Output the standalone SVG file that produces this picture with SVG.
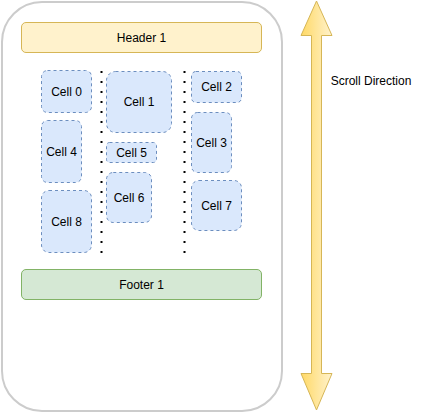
<svg xmlns="http://www.w3.org/2000/svg" width="422" height="414" viewBox="0 0 422 414">
<style>
text{font-family:"Liberation Sans",Arial,sans-serif;font-size:12px;fill:#000;text-anchor:middle;dominant-baseline:central}
.cell{fill:#dae8fc;stroke:#6c8ebf;stroke-dasharray:3 3;stroke-width:1}
.dots{stroke:#000;stroke-width:2;stroke-dasharray:2 8;fill:none}
</style>
<defs>
<linearGradient id="g" x1="0" y1="0" x2="1" y2="0">
<stop offset="0" stop-color="#ffd966"/>
<stop offset="1" stop-color="#fff2cc"/>
</linearGradient>
</defs>
<g id="phone"><rect x="2" y="2" width="280" height="409" rx="40" ry="40" fill="#fff" stroke="#cccccc" stroke-width="2"/></g>
<g id="header"><rect x="21.5" y="22.5" width="240" height="30" rx="4.5" fill="#fff2cc" stroke="#d6b656"/><text x="141.5" y="37.5">Header 1</text></g>
<g id="footer"><rect x="21.5" y="269.5" width="240" height="30" rx="4.5" fill="#d5e8d4" stroke="#82b366"/><text x="141.5" y="284.5">Footer 1</text></g>
<g id="cell0"><rect class="cell" x="41.5" y="70.5" width="50" height="42" rx="6"/><text x="66.5" y="91.5">Cell 0</text></g>
<g id="cell1"><rect class="cell" x="106.5" y="71.5" width="65" height="61" rx="9"/><text x="139" y="102">Cell 1</text></g>
<g id="cell2"><rect class="cell" x="191.5" y="71.5" width="50" height="31" rx="4.5"/><text x="216.5" y="87">Cell 2</text></g>
<g id="cell3"><rect class="cell" x="191.5" y="112.5" width="40" height="60" rx="6"/><text x="211.5" y="142.5">Cell 3</text></g>
<g id="cell4"><rect class="cell" x="41.5" y="120.5" width="40" height="62" rx="6"/><text x="61.5" y="151.5">Cell 4</text></g>
<g id="cell5"><rect class="cell" x="106.5" y="142.5" width="50" height="20" rx="3"/><text x="131.5" y="152.5">Cell 5</text></g>
<g id="cell6"><rect class="cell" x="106.5" y="172.5" width="45" height="50" rx="6.75"/><text x="129" y="197.5">Cell 6</text></g>
<g id="cell7"><rect class="cell" x="191.5" y="180.5" width="50" height="50" rx="7.5"/><text x="216.5" y="205.5">Cell 7</text></g>
<g id="cell8"><rect class="cell" x="41.5" y="190.5" width="50" height="62" rx="7.5"/><text x="66.5" y="221.5">Cell 8</text></g>
<g id="connectors">
<line class="dots" x1="101.5" y1="71" x2="101.5" y2="253"/>
<line class="dots" x1="184.5" y1="71" x2="184.5" y2="253"/>
</g>
<g id="scroll-arrow">
<path d="M316.5 1 L332 35.5 L321.5 35.5 L321.5 373.5 L332 373.5 L316.5 410 L301 373.5 L311.5 373.5 L311.5 35.5 L301 35.5 Z" fill="url(#g)" stroke="#d6b656" stroke-linejoin="miter"/>
<text x="371" y="81">Scroll Direction</text>
</g>
</svg>
